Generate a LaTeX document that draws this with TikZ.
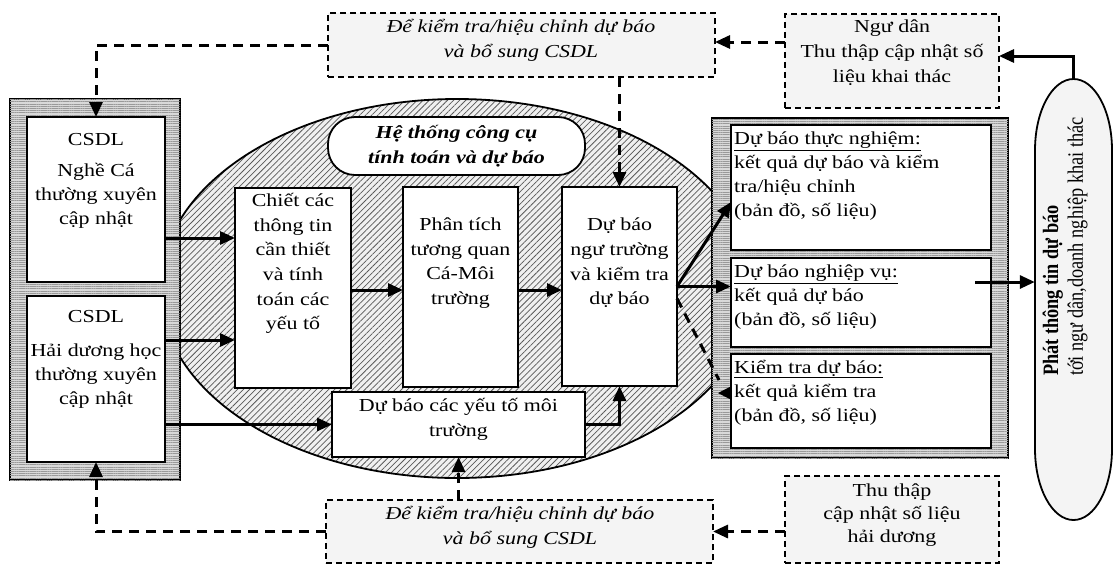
\documentclass[tikz,border=0pt]{standalone}
\usepackage{fontspec}
\setmainfont{Liberation Serif}[FakeStretch=1.2]
\newfontfamily\rotfont{Liberation Serif}
\usetikzlibrary{arrows.meta,patterns.meta,calc}
\begin{document}
\begin{tikzpicture}[x=1pt,y=-1pt,
  tip/.style={-{Triangle[length=15pt,width=13pt]}},
  arr/.style={line width=3pt, tip},
  darr/.style={line width=3pt, dash pattern=on 10pt off 7pt, tip},
  dline/.style={line width=3pt, dash pattern=on 10pt off 7pt},
  box/.style={draw, line width=2.2pt, fill=white, inner sep=0pt, outer sep=0pt},
  dbox/.style={draw, line width=1.7pt, dash pattern=on 6pt off 4pt, fill=gray!9, inner sep=0pt, outer sep=0pt},
  txt/.style={inner sep=0pt, align=center, font=\fontsize{18.3pt}{24pt}\selectfont},
  ltxt/.style={inner sep=0pt, align=left, anchor=west, font=\fontsize{18.3pt}{24pt}\selectfont},
  outerbox/.style={draw, line width=1.8pt, fill=gray!30, postaction={pattern={Lines[angle=0,distance=2.2pt,line width=0.8pt]}, pattern color=gray!80}},
  hatch/.style={fill=gray!12, postaction={pattern={Lines[angle=45,distance=4.3pt,line width=0.75pt]}, pattern color=black!65}},
]
\useasboundingbox (0,0) rectangle (1113,566);

% central hatched ellipse
\path[hatch] (457,288.5) ellipse [x radius=297, y radius=189.5];
\draw[line width=1.8pt] (457,288.5) ellipse [x radius=297, y radius=189.5];

% outer frames
\draw[outerbox] (10,99) rectangle (180,480);
\draw[outerbox] (712,118) rectangle (1008,458);

% label inside ellipse
\node[draw, line width=1.8pt, fill=white, rounded corners=27pt, minimum width=257pt, minimum height=58pt, inner sep=0pt, align=center, font=\bfseries\itshape\fontsize{18.3pt}{25pt}\selectfont] (ht) at (456.5,146) {Hệ thống công cụ\\tính toán và dự báo};

% boxes
\node[box, minimum width=138pt, minimum height=165pt] (csdl1) at (96,199.5) {};
\node[box, minimum width=138pt, minimum height=166pt] (csdl2) at (96,379) {};
\node[box, minimum width=116pt, minimum height=200pt] (A) at (293,288) {};
\node[box, minimum width=115pt, minimum height=200pt] (B) at (460.5,287) {};
\node[box, minimum width=115pt, minimum height=199pt] (C) at (619.5,286.5) {};
\node[box, minimum width=253pt, minimum height=65pt] (D) at (458.5,424.5) {};
\node[box, minimum width=260pt, minimum height=125pt] (R1) at (861,187.5) {};
\node[box, minimum width=260pt, minimum height=89pt] (R2) at (861,302.5) {};
\node[box, minimum width=260pt, minimum height=94pt] (R3) at (861,401) {};

% dashed boxes
\node[dbox, minimum width=387pt, minimum height=64pt] (T1) at (521.5,45) {};
\node[dbox, minimum width=214pt, minimum height=94pt] (T2) at (892,61) {};
\node[dbox, minimum width=387pt, minimum height=63pt] (B1) at (519.5,531.5) {};
\node[dbox, minimum width=214pt, minimum height=87pt] (B2) at (892,519.5) {};

% oval
\path[draw, line width=1.8pt, fill=gray!9] (1035,150) arc[start angle=180, end angle=360, x radius=38.5, y radius=71] -- (1112,449) arc[start angle=0, end angle=180, x radius=38.5, y radius=71] -- cycle;
\node[inner sep=0pt, minimum width=77pt, minimum height=441pt] (oval) at (1073.5,299.5) {};
\node[rotate=90, anchor=west, inner sep=0pt, font=\rotfont\fontsize{18.3pt}{20.8pt}\selectfont] (ovalt) at (1065.5,376) {\scalebox{1}[1.2]{\begin{tabular}{@{}l@{}}\textbf{Phát thông tin dự báo}\\tới ngư dân,doanh nghiệp khai thác\end{tabular}}};

% texts
\node[txt] (csdl1t) at (96,181) {CSDL\\[7pt]Nghề Cá\\thường xuyên\\cập nhật};
\node[txt] (csdl2t) at (96,359) {CSDL\\[10pt]Hải dương học\\thường xuyên\\cập nhật};
\node[txt, font=\fontsize{18.3pt}{24.6pt}\selectfont] (At) at (293,263.5) {Chiết các\\thông tin\\cần thiết\\và tính\\toán các\\yếu tố};
\node[txt, font=\fontsize{18.3pt}{24.6pt}\selectfont] (Bt) at (460.5,263) {Phân tích\\tương quan\\Cá-Môi\\trường};
\node[txt, font=\fontsize{18.3pt}{24.6pt}\selectfont] (Ct) at (619.5,263) {Dự báo\\ngư trường\\và kiểm tra\\dự báo};
\node[txt, font=\fontsize{18.3pt}{25pt}\selectfont] (Dt) at (458.5,419.5) {Dự báo các yếu tố môi\\trường};
\node[txt, font=\itshape\fontsize{18.3pt}{25pt}\selectfont] (T1t) at (521,40.5) {Để kiểm tra/hiệu chỉnh dự báo\\và bổ sung CSDL};
\node[txt, font=\fontsize{18.3pt}{25pt}\selectfont] (T2t) at (892,53) {Ngư dân\\Thu thập cập nhật số\\liệu khai thác};
\node[txt, font=\itshape\fontsize{18.3pt}{25pt}\selectfont] (B1t) at (520,527.5) {Để kiểm tra/hiệu chỉnh dự báo\\và bổ sung CSDL};
\node[txt, font=\fontsize{18.3pt}{23pt}\selectfont] (B2t) at (892,515) {Thu thập\\cập nhật số liệu\\hải dương};
\node[ltxt] (R1t) at (734,176) {\underline{Dự báo thực nghiệm:}\\kết quả dự báo và kiểm\\tra/hiệu chỉnh\\(bản đồ, số liệu)};
\node[ltxt] (R2t) at (734,297.5) {\underline{Dự báo nghiệp vụ:}\\kết quả dự báo\\(bản đồ, số liệu)};
\node[ltxt] (R3t) at (734,392.5) {\underline{Kiểm tra dự báo:}\\kết quả kiểm tra\\(bản đồ, số liệu)};

% solid connectors
\draw[arr] (csdl1.east |- 0,238) -- (A.west |- 0,238);
\draw[arr] (csdl2.east |- 0,340) -- (A.west |- 0,340);
\draw[arr] (csdl2.east |- D.west) -- (D.west);
\draw[arr] (A.east |- 0,290) -- (B.west |- 0,290);
\draw[arr] (B.east |- 0,290) -- (C.west |- 0,290);
\draw[arr] (D.east) -| (C.south);
\draw[arr] (C.east) -- (R1.west |- 0,202);
\draw[arr] (C.east) -- (R2.west |- C.east);
\draw[arr] ($(R2.east |- 0,282)+(-16,0)$) -- (oval.west |- 0,282);
\draw[arr] (oval.north) -- (oval.north |- 0,56) -- (T2.east |- 0,56);

% dashed connectors
\coordinate (r3a) at (719,380);
\draw[dline] ($(C.east)+(0,12)$) -- (r3a);
\draw[-{Triangle[length=13pt,width=13pt]}, line width=0.5pt] (R3.west |- 0,393) -- ++(-13,0);
\draw[darr] (T2.west |- 0,42) -- (T1.east |- 0,42);
\draw[darr] (T1.west) -| (csdl1.north);
\draw[darr] (C.north |- T1.south) -- (C.north);
\draw[darr] (B1.west) -| (csdl2.south);
\draw[darr] (D.south |- B1.north) -- (D.south);
\draw[darr] (B2.west |- B1.east) -- (B1.east);
\end{tikzpicture}
\end{document}
